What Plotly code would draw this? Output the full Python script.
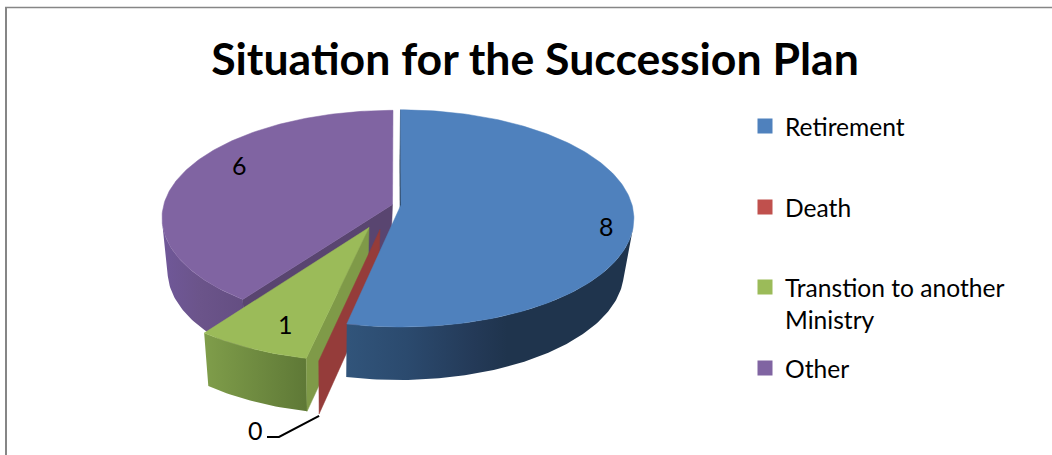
import math
import plotly.graph_objects as go

# Chart data
categories = ["Retirement", "Death", "Transtion to another<br>Ministry", "Other"]
values = [8, 0, 1, 6]
top_colors = ["#4f81bd", "#c0504d", "#9bbb59", "#8064a2"]
title_text = "Situation for the Succession Plan"

# Projection of the pie disc onto the page, in page pixels
CX, CY = 397.0, 204.5        # hub of the unexploded pie
RX, RY = 231.0, 106.8        # disc radii
PERSP = 0.124                # foreshortening towards the back
WALL_H = 53.0                # extrusion height
VANISH_X = 330.0             # horizontal vanishing line of the extrusion
BASE_SCALE = 0.967           # shrink of the lower rim
BACK_CUT_LEAN = 0.7          # sideways run of the rear cut face of the first slice

# Per-slice explosion (disc units) and radius factor
explode = [(0.017, 0.004), (-0.0715, 0.227), (-0.118, 0.21), (-0.0195, 0.0)]
radius = [1.0, 1.035, 1.035, 0.99]

# Shading of the cut faces and horizontal colour ramps of the outer walls
cut_colors = ["#1f344d", "#953c3a", "#7f9a48", "#594570"]
wall_ramps = {
    0: [(348, "#31547a"), (407, "#2b4a6e"), (473, "#243a58"), (507, "#1f344d"), (640, "#1f344d")],
    2: [(205, "#7f9d4a"), (308, "#5e7836")],
    3: [(160, "#70589a"), (200, "#6b548a"), (245, "#644e82")],
}

label_pos = [(606, 226), (255, 430), (285, 324), (239, 165)]
leader_elbow = [(279, 437), (267, 437)]
legend_y = [126, 207, 287, 368]


def top_point(i, deg):
    """Project a point of slice i's upper rim; deg runs clockwise from 12 o'clock."""
    t = math.radians(deg)
    c = explode[i][0] + radius[i] * math.sin(t)
    s = explode[i][1] - radius[i] * math.cos(t)
    w = 1 - PERSP * s
    return CX + RX * c / w, CY + RY * s / w


def hub_point(i):
    c, s = explode[i]
    w = 1 - PERSP * s
    return CX + RX * c / w, CY + RY * s / w


def drop(p):
    """Move a point of the upper rim to the lower rim."""
    return VANISH_X + (p[0] - VANISH_X) * BASE_SCALE, p[1] + WALL_H


fig = go.Figure()


def poly(points, color=None, ramp=None):
    xs = [p[0] for p in points] + [points[0][0]]
    ys = [p[1] for p in points] + [points[0][1]]
    opts = dict(fillcolor=color)
    if ramp:
        x0, x1 = ramp[0][0], ramp[-1][0]
        opts = dict(fillgradient=dict(
            type="horizontal", start=x0, stop=x1,
            colorscale=[[(x - x0) / (x1 - x0), c] for x, c in ramp],
        ))
    fig.add_trace(go.Scatter(
        x=xs, y=ys, mode="lines", fill="toself",
        line=dict(color=color or ramp[-1][1], width=0.5 if color else 0),
        hoverinfo="skip", showlegend=False, **opts,
    ))


# Slice sweeps, clockwise from the top
total = sum(values)
sweeps = []
angle = 0.0
for v in values:
    end = angle + 360.0 * v / total
    sweeps.append((angle, end))
    angle = end


def arc(i, a, b, step=1.0):
    n = max(1, int(abs(b - a) / step))
    return [top_point(i, a + (b - a) * k / n) for k in range(n + 1)]


def front_facing(p, q):
    """True when the wall strip under rim segment p-q faces the viewer."""
    d = drop(p)
    return (q[0] - p[0]) * (d[1] - p[1]) - (q[1] - p[1]) * (d[0] - p[0]) < 0


def draw_wall(i):
    a, b = sweeps[i]
    rim = arc(i, a, b)
    keep = [k for k in range(len(rim) - 1) if front_facing(rim[k], rim[k + 1])]
    rim = rim[keep[0]:keep[-1] + 2]
    poly(rim + [drop(p) for p in reversed(rim)], ramp=wall_ramps[i])


def draw_cut(i, deg):
    hub = hub_point(i)
    rim = top_point(i, deg)
    poly([hub, rim, drop(rim), drop(hub)], cut_colors[i])


def draw_back_cut(i, deg):
    hub = hub_point(i)
    rim = top_point(i, deg)
    poly([hub, rim, (rim[0] - BACK_CUT_LEAN, rim[1] + WALL_H),
          (hub[0] - BACK_CUT_LEAN, hub[1] + WALL_H)], cut_colors[i])


def draw_top(i):
    a, b = sweeps[i]
    poly([hub_point(i)] + arc(i, a, b), top_colors[i])


# Painted from the back slice to the front
RETIREMENT, DEATH, TRANSITION, OTHER = 0, 1, 2, 3
draw_wall(OTHER)
draw_cut(OTHER, sweeps[OTHER][0])
draw_top(OTHER)

draw_wall(TRANSITION)
draw_cut(TRANSITION, sweeps[TRANSITION][0])
draw_top(TRANSITION)

draw_cut(DEATH, sweeps[DEATH][0])

draw_back_cut(RETIREMENT, sweeps[RETIREMENT][0])
draw_wall(RETIREMENT)
draw_top(RETIREMENT)

# Leader line of the zero-value label
tip = drop(top_point(DEATH, sweeps[DEATH][0]))
leader = [(tip[0], tip[1] + 2)] + leader_elbow
fig.add_trace(go.Scatter(
    x=[p[0] for p in leader], y=[p[1] for p in leader], mode="lines",
    line=dict(color="#000000", width=2), hoverinfo="skip", showlegend=False,
))

# Value labels
FONT = "Lato, 'Open Sans', sans-serif"
for v, (lx, ly) in zip(values, label_pos):
    fig.add_annotation(
        x=lx, y=ly, text=str(v), showarrow=False,
        font=dict(family=FONT, size=25, color="#000000"),
    )

# Legend: one keyed entry per category, each placed on its own row.
# A wrapped name gets a blank leading line so the key sits beside its first line.
legend_layout = {}
for i, (name, color, ly) in enumerate(zip(categories, top_colors, legend_y)):
    key = "legend" if i == 0 else f"legend{i + 1}"
    shown = "<br>" + name if "<br>" in name else name
    fig.add_trace(go.Scatter(
        x=[None], y=[None], mode="markers", name=shown, legend=key,
        marker=dict(symbol="square", size=15, color=color),
    ))
    legend_layout[key] = dict(
        x=745 / 1052, y=1 - ly / 455, xanchor="left", yanchor="middle",
        bgcolor="rgba(0,0,0,0)", borderwidth=0, itemsizing="trace",
        font=dict(family=FONT, size=24.6, color="#000000"),
    )

fig.update_layout(
    width=1052, height=455,
    margin=dict(l=0, r=0, t=0, b=0),
    paper_bgcolor="#ffffff", plot_bgcolor="#ffffff",
    showlegend=True,
    xaxis=dict(range=[0, 1052], visible=False, fixedrange=True),
    yaxis=dict(range=[455, 0], visible=False, fixedrange=True),
    title=dict(
        text=f"<b>{title_text}</b>", x=535 / 1052, xanchor="center",
        y=1 - 59 / 455, yanchor="middle",
        font=dict(family=FONT, size=44.6, color="#000000"),
    ),
    shapes=[
        dict(type="line", xref="x", yref="y", x0=5, y0=7.5, x1=1052, y1=7.5,
             line=dict(color="#868686", width=1.5)),
        dict(type="line", xref="x", yref="y", x0=6, y0=7, x1=6, y1=455,
             line=dict(color="#868686", width=2)),
    ],
    **legend_layout,
)

fig.write_html("out.html")
